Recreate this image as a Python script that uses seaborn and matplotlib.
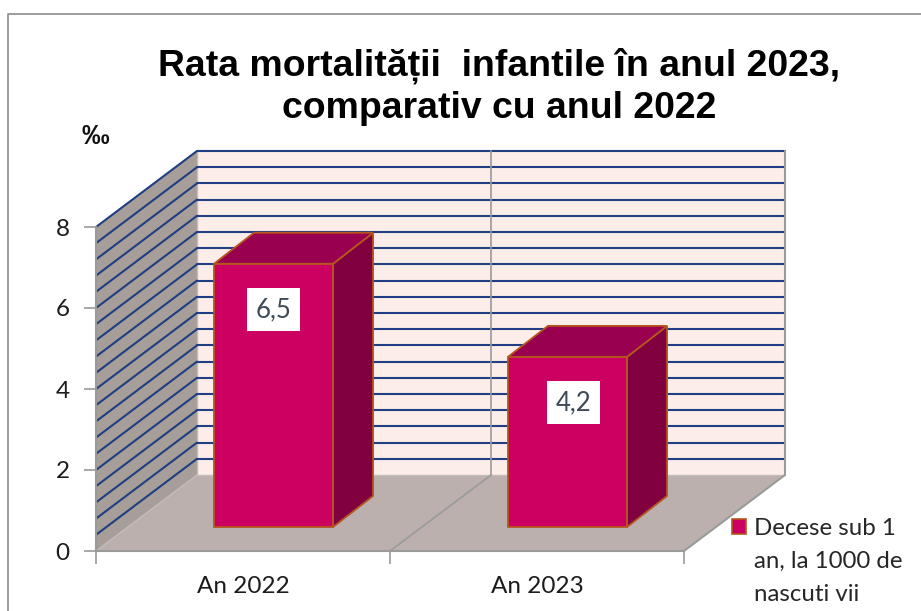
import matplotlib
matplotlib.use("Agg")
import numpy as np
import seaborn as sns
import matplotlib.pyplot as plt
from matplotlib.patches import Polygon, Patch
from matplotlib.lines import Line2D

categories = ["An 2022", "An 2023"]
values = [6.5, 4.2]
value_labels = ["6,5", "4,2"]
y_ticks = [0, 2, 4, 6, 8]
grid_step = 0.4
title_lines = ["Rata mortalității  infantile în anul 2023,", "comparativ cu anul 2022"]
unit = "‰"
legend_lines = ["Decese sub 1", "an, la 1000 de", "nascuti vii"]

W, H = 921, 611

sns.set_theme(style="white")
plt.rcParams["font.family"] = ["Lato", "DejaVu Sans"]

fig = plt.figure(figsize=(W / 100, H / 100), dpi=100)


def px_axes(x0, x1, y_top, y_bottom):
    return fig.add_axes([x0 / W, 1 - y_bottom / H, (x1 - x0) / W, (y_bottom - y_top) / H])


# front plane of the fake 3d box
ax = px_axes(96, 684, 227, 551)
ax.set_xlim(-0.5, 1.5)
ax.set_ylim(0, 8)
ax.patch.set_alpha(0)

# depth of the box and of the bars, in data units
ppx = 2 / 588
ppy = 8 / 324
dx, dy = 101 * ppx, 76 * ppy
bar_dx, bar_dy = 40 * ppx, 31 * ppy

left, right = -0.5, 1.5
wall_top = 8

ax.add_patch(Polygon([(left, 0), (left + dx, dy), (left + dx, wall_top + dy), (left, wall_top)],
                     fc="#A79D99", ec="none", clip_on=False, zorder=1))
ax.add_patch(Polygon([(left + dx, dy), (right + dx, dy), (right + dx, wall_top + dy), (left + dx, wall_top + dy)],
                     fc="#FCEDE8", ec="none", clip_on=False, zorder=1))
ax.add_patch(Polygon([(left, 0), (right, 0), (right + dx, dy), (left + dx, dy)],
                     fc="#BBB0AE", ec="none", clip_on=False, zorder=1.5))

for g in np.arange(grid_step, wall_top + 0.01, grid_step):
    ax.plot([left, left + dx], [g, g + dy], color="#1F3F82", lw=1.5, clip_on=False, zorder=2)
    ax.plot([left + dx, right + dx], [g + dy, g + dy], color="#1F3F82", lw=1.5, clip_on=False, zorder=2)

grey = "#9A9A9A"
ax.plot([0.5 + dx, 0.5 + dx], [dy, wall_top + dy], color=grey, lw=1.2, clip_on=False, zorder=2.5)
ax.plot([0.5, 0.5 + dx], [0, dy], color=grey, lw=1.2, clip_on=False, zorder=2.5)
ax.plot([right, right + dx, right + dx], [0, dy, wall_top + dy], color=grey, lw=1.5, clip_on=False, zorder=2.5)
ax.plot([left + dx, left + dx, right + dx], [wall_top + dy, dy, dy], color="#C4BCB8", lw=1, clip_on=False, zorder=1.8)
ax.plot([left, left + dx], [0, dy], color="#C4BCB8", lw=1, clip_on=False, zorder=1.8)

ax.set_xticks([0, 1], categories)
ax.set_xticks([-0.5, 0.5, 1.5], minor=True)
ax.set_yticks(y_ticks)
ax.tick_params(axis="x", which="major", length=0, pad=18, labelsize=17.5, labelcolor="#1C1C1C")
ax.tick_params(axis="x", which="minor", length=9, width=1.2, color=grey, bottom=True)
ax.tick_params(axis="y", length=9, width=1.2, color=grey, left=True, pad=10, labelsize=17.5, labelcolor="#1C1C1C")
sns.despine(ax=ax, top=True, right=True)
for side in ["left", "bottom"]:
    ax.spines[side].set_color(grey)
    ax.spines[side].set_linewidth(1.5)

# bars stand inside the box, so they get their own shifted axes
bar_ax = px_axes(96 + 30.5, 684 + 30.5, 227 - 24, 551 - 24)
front, edge = "#CC0060", "#B5561F"
sns.barplot(x=categories, y=values, ax=bar_ax, color=front, saturation=1, width=0.405,
            edgecolor=edge, linewidth=1.3, zorder=3)
bar_ax.set_xlim(-0.5, 1.5)
bar_ax.set_ylim(0, 8)
bar_ax.axis("off")

# the second label sits a bit right of its bar centre
label_shift = [0, 6 * ppx]

for bar, lab, shift in zip(bar_ax.patches, value_labels, label_shift):
    x0, x1 = bar.get_x(), bar.get_x() + bar.get_width()
    h = bar.get_height()
    bar.set_clip_on(False)
    bar_ax.add_patch(Polygon([(x1, 0), (x1 + bar_dx, bar_dy), (x1 + bar_dx, h + bar_dy), (x1, h)],
                             fc="#800040", ec=edge, lw=1.3, clip_on=False, zorder=2.9))
    bar_ax.add_patch(Polygon([(x0, h), (x1, h), (x1 + bar_dx, h + bar_dy), (x0 + bar_dx, h + bar_dy)],
                             fc="#990050", ec=edge, lw=1.3, clip_on=False, zorder=2.9))
    bar_ax.text((x0 + x1) / 2 + shift, h - 1.13, lab, ha="center", va="center", fontsize=18.5, color="#3F4A57",
                zorder=5, bbox=dict(fc="white", ec="none", boxstyle="square,pad=0.34"))

for line, y_px in zip(title_lines, [75, 118]):
    fig.text(499 / W, 1 - y_px / H, line, ha="center", va="baseline", fontsize=26.9, fontweight="bold",
             family="Liberation Sans", color="black")
fig.text(95 / W, 1 - 137 / H, unit, ha="center", va="center", fontsize=20, fontweight="bold",
         family="Liberation Sans", color="#111111")

# one legend row per text line, only the first one has the swatch
blank = dict(fc="none", ec="none")
handles = [Patch(fc=front, ec=edge, lw=1.2, label=legend_lines[0]),
           Patch(label=legend_lines[1], **blank), Patch(label=legend_lines[2], **blank)]
fig.legend(handles=handles, loc="upper left", bbox_to_anchor=(732 / W, 1 - 518 / H), frameon=False,
           fontsize=17.3, handlelength=0.58, handleheight=0.58, handletextpad=0.33, borderpad=0,
           borderaxespad=0, labelspacing=0.49)

# outer chart frame, cut off by the screenshot on the right and bottom
frame = "#8C8C8C"
fig.add_artist(Line2D([8 / W, 8 / W, 1], [0, 1 - 14 / H, 1 - 14 / H], color=frame, lw=1.2))

fig.savefig("out.png", dpi=100)
